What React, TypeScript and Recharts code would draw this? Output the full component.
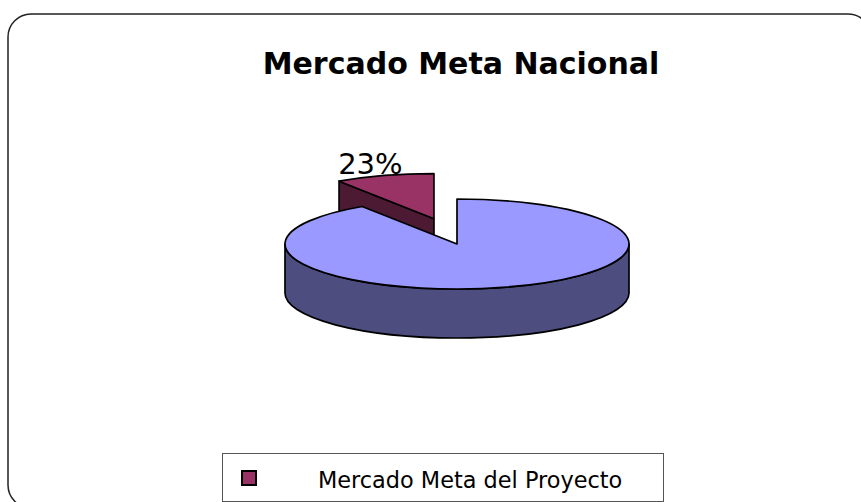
import React from 'react';
import { PieChart, Pie, Legend } from 'recharts';

// ---- data ----
const categories = ['Mercado Meta del Proyecto', ''];
const shares = [9.3, 90.7];
const sliceLabels = ['23%', ''];
const chartTitle = 'Mercado Meta Nacional';

// ---- styles ----
const topColors = ['#993366', '#9999FF'];
const sideColors = ['#4D1A33', '#4D4D80'];
const explode = [80, 0];

const data = categories.map((name, i) => ({ name, value: shares[i], label: sliceLabels[i] }));

const W = 861;
const H = 502;
const CX = 457;
const CY = 244;
const RX = 172;
const RY = 45;
const DEPTH = 49;
const K = RY / RX;
const EXPLODE_K = 0.33;

const rad = (d: number) => (d * Math.PI) / 180;

function Slice3D(props: any) {
  const { cx, cy, startAngle, endAngle, outerRadius, index } = props;
  const a0 = Math.min(startAngle, endAngle);
  const a1 = Math.max(startAngle, endAngle);
  const rx = outerRadius;
  const ry = rx * K;
  const mid = (a0 + a1) / 2;
  const e = explode[index] || 0;
  const ox = cx + e * Math.cos(rad(mid));
  const oy = cy - e * EXPLODE_K * Math.sin(rad(mid));
  const pt = (a: number, dz = 0): [number, number] => [
    ox + rx * Math.cos(rad(a)),
    oy - ry * Math.sin(rad(a)) + dz,
  ];
  const arc = (from: number, to: number, dz: number) => {
    const [x, y] = pt(to, dz);
    const large = Math.abs(to - from) > 180 ? 1 : 0;
    const sweep = to > from ? 0 : 1;
    return `A ${rx} ${ry} 0 ${large} ${sweep} ${x} ${y}`;
  };
  const top = topColors[index];
  const side = sideColors[index];
  const strokeProps = { stroke: '#000', strokeWidth: 1.7, strokeLinejoin: 'round' as const };

  const faces: React.ReactNode[] = [];
  // radial cut faces
  const radial = (a: number, normal: number, key: string) => {
    if (Math.sin(rad(normal)) < -1e-6) {
      const [x, y] = pt(a);
      const d = `M ${ox} ${oy} L ${x} ${y} L ${x} ${y + DEPTH} L ${ox} ${oy + DEPTH} Z`;
      faces.push(<path key={key} d={d} fill={side} {...strokeProps} />);
    }
  };
  radial(a0, a0 - 90, 'r0');
  radial(a1, a1 + 90, 'r1');

  // outer curved wall (front half only)
  for (let k = -1; k <= 2; k++) {
    const s = Math.max(a0, 180 + 360 * k);
    const t = Math.min(a1, 360 + 360 * k);
    if (t - s > 0.01) {
      const [sx, sy] = pt(s);
      const [tx, ty] = pt(t, DEPTH);
      const d = `M ${sx} ${sy} ${arc(s, t, 0)} L ${tx} ${ty} ${arc(t, s, DEPTH)} Z`;
      faces.push(<path key={`w${k}`} d={d} fill={side} {...strokeProps} />);
    }
  }

  // top face
  const [x0, y0] = pt(a0);
  const topD = `M ${ox} ${oy} L ${x0} ${y0} ${arc(a0, a1, 0)} Z`;
  faces.push(<path key="top" d={topD} fill={top} {...strokeProps} />);

  const text = sliceLabels[index];
  if (text) {
    const [lx, ly] = pt(mid);
    faces.push(
      <text
        key="lbl"
        x={lx - 14}
        y={ly - 2}
        textAnchor="middle"
        fontFamily="DejaVu Sans, sans-serif"
        fontSize={29}
        fill="#000"
      >
        {text}
      </text>
    );
  }
  return <g>{faces}</g>;
}

function LegendBox(props: any) {
  const items = (props.payload || []).filter((p: any) => p.value);
  return (
    <div
      style={{
        boxSizing: 'border-box',
        width: 442,
        height: 49,
        border: '1.5px solid #555',
        position: 'relative',
        background: '#fff',
      }}
    >
      {items.map((it: any) => {
        const idx = categories.indexOf(it.value);
        return (
          <React.Fragment key={it.value}>
            <div
              style={{
                position: 'absolute',
                left: 18,
                top: 16,
                width: 16,
                height: 16,
                boxSizing: 'border-box',
                background: topColors[idx],
                border: '2px solid #000',
              }}
            />
            <div
              style={{
                position: 'absolute',
                left: 95,
                top: 15,
                fontFamily: 'DejaVu Sans, sans-serif',
                fontSize: 22.4,
                lineHeight: '22px',
                whiteSpace: 'nowrap',
                color: '#000',
              }}
            >
              {it.value}
            </div>
          </React.Fragment>
        );
      })}
    </div>
  );
}

export default function App() {
  return (
    <div
      style={{
        position: 'absolute',
        left: 0,
        top: 0,
        width: W,
        height: H,
        overflow: 'hidden',
        background: '#fff',
      }}
    >
      <svg width={W} height={H} style={{ position: 'absolute', left: 0, top: 0 }}>
        <rect x={8} y={14} width={863} height={494} rx={23} ry={23} fill="#fff" stroke="#222" strokeWidth={1.5} />
        <text
          x={461}
          y={74}
          textAnchor="middle"
          fontFamily="DejaVu Sans, sans-serif"
          fontWeight="bold"
          fontSize={30}
          fill="#000"
        >
          {chartTitle}
        </text>
      </svg>
      <div style={{ position: 'absolute', left: 0, top: 0 }}>
        <PieChart width={W} height={H} margin={{ top: 0, right: 0, bottom: 0, left: 0 }}>
          <Pie
            data={data}
            dataKey="value"
            nameKey="name"
            cx={CX}
            cy={CY}
            outerRadius={RX}
            startAngle={90}
            endAngle={450}
            fill="none"
            stroke="none"
            label={Slice3D}
            labelLine={false}
            isAnimationActive={false}
            legendType="square"
          />
          <Legend
            content={LegendBox}
            wrapperStyle={{ position: 'absolute', left: 222, top: 453, width: 442, height: 49 }}
          />
        </PieChart>
      </div>
    </div>
  );
}
